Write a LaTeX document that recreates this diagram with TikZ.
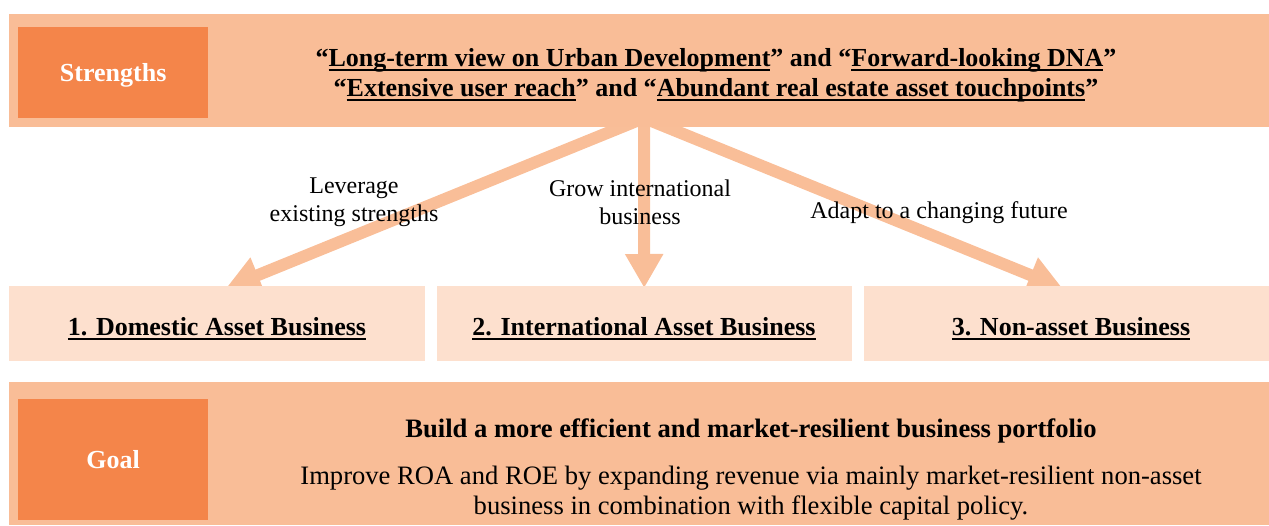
\documentclass[tikz,border=0pt]{standalone}
\usepackage{fontspec}
\setmainfont{Liberation Serif}
\newcommand{\myul}[1]{\setbox0\hbox{#1}\rlap{\rule[-4.5pt]{\wd0}{1.8pt}}\box0}
\usetikzlibrary{arrows.meta,calc}
\definecolor{bandc}{RGB}{249,189,151}
\definecolor{darkc}{RGB}{244,133,74}
\definecolor{lightc}{RGB}{253,224,206}
\definecolor{arrowc}{RGB}{249,190,152}
\pgfdeclarelayer{bg}
\pgfsetlayers{bg,main}
\tikzset{
  band/.style={fill=bandc, inner sep=0pt, anchor=north west},
  tagbox/.style={fill=darkc, inner sep=0pt, anchor=north west, text=white, text depth=0pt,
    font=\fontsize{26}{30}\selectfont\bfseries, minimum width=190pt},
  bizbox/.style={fill=lightc, inner sep=0pt, anchor=north west, minimum height=75pt},
  headtext/.style={align=center, inner sep=0pt, font=\fontsize{26}{30}\selectfont\bfseries},
  goaltext/.style={align=center, inner sep=0pt, font=\fontsize{26.6}{30}\selectfont\bfseries},
  bodytext/.style={align=center, inner sep=0pt, font=\fontsize{26.6}{30}\selectfont},
  lbl/.style={align=center, inner sep=0pt, font=\fontsize{24}{28}\selectfont},
  bigarrow/.style={draw=arrowc, line width=12pt, -{Triangle[length=34pt,width=36pt]}}
}
\begin{document}
\begin{tikzpicture}[x=1pt,y=-1pt]
\useasboundingbox (0,0) rectangle (1269,525);
% bands
\node[band, minimum width=1260pt, minimum height=113pt] (top) at (9,14) {};
\node[band, minimum width=1260pt, minimum height=143pt] (bottom) at (9,382) {};
% tag boxes
\node[tagbox, minimum height=91pt] (str) at (18,27) {Strengths};
\node[tagbox, minimum height=121pt] (goal) at (18,399) {Goal};
% strengths text
\node[headtext] (strtext) at (716,75) {“\myul{Long-term view on Urban Development}” and “\myul{Forward-looking DNA}”\\
“\myul{Extensive user reach}” and “\myul{Abundant real estate asset touchpoints}”};
% business boxes
\node[bizbox, minimum width=416pt] (b1) at (9,286) {};
\node[bizbox, minimum width=415pt] (b2) at (437,286) {};
\node[bizbox, minimum width=405pt] (b3) at (864,286) {};
\node[headtext] (b1t) at (217,329) {\myul{1. Domestic Asset Business}};
\node[headtext] (b2t) at (644,329) {\myul{2. International Asset Business}};
\node[headtext] (b3t) at (1071,329) {\myul{3. Non-asset Business}};
% goal text
\node[goaltext] (goaltitle) at (751,431) {Build a more efficient and market-resilient business portfolio};
\node[bodytext] (goalbody) at (751,493) {Improve ROA and ROE by expanding revenue via mainly market-resilient non-asset\\
business in combination with flexible capital policy.};
% arrows
\coordinate (src) at (644,118);
\begin{pgfonlayer}{bg}
\draw[bigarrow] (src) -- ($(b1.north)+(9,2)$);
\draw[bigarrow] (src) -- ($(b2.north)+(-0.5,2)$);
\draw[bigarrow] (src) -- ($(b3.north)+(-4.5,2)$);
\end{pgfonlayer}
% labels
\node[lbl] (l1) at (354,202) {Leverage\\existing strengths};
\node[lbl] (l2) at (640,202) {Grow international\\business};
\node[lbl] (l3) at (939,213) {Adapt to a changing future};
\end{tikzpicture}
\end{document}
